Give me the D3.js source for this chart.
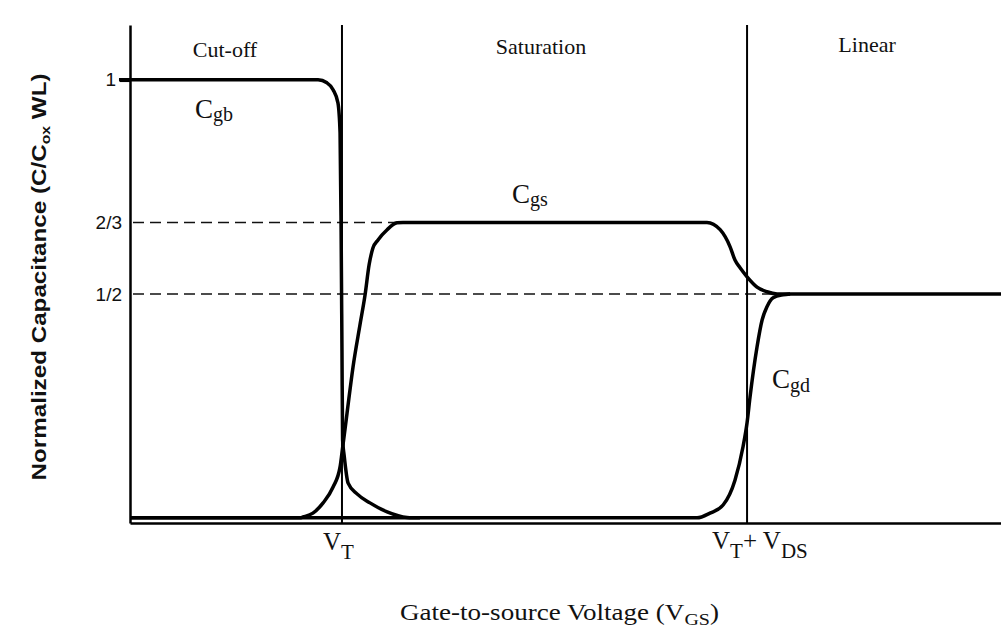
<!DOCTYPE html>
<html>
<head>
<meta charset="utf-8">
<script src="https://cdn.jsdelivr.net/npm/d3@7"></script>
<style>
  body { margin: 0; background: #fff; }
  svg { display: block; }
</style>
</head>
<body>
<div id="chart"></div>
<script>
// VGS in units of VT (VT = 1), capacitance normalised to Cox*W*L
// values
const cgbX = [-0.052, 0.887, 0.929, 0.958, 0.981, 0.991, 0.996, 1.000, 1.003, 1.010, 1.029, 1.071, 1.132, 1.213, 1.307, 1.368];
const cgbY = [1.000, 1.000, 0.993, 0.977, 0.946, 0.876, 0.643, 0.369, 0.159, 0.124, 0.058, 0.033, 0.012, -0.009, -0.022, -0.023];

const cgsX = [0, 0.802, 0.816, 0.863, 0.911, 0.958, 0.991, 1.000, 1.024, 1.052, 1.085, 1.109, 1.128, 1.146, 1.170, 1.213, 1.260, 1.288,
  2.722, 2.784, 2.831, 2.854, 2.878, 2.911, 2.958, 3.005, 3.053, 3.100, 4.109];
const cgsY = [-0.023, -0.023, -0.021, -0.012, 0.012, 0.049, 0.096, 0.129, 0.222, 0.329, 0.428, 0.498, 0.568, 0.607, 0.626, 0.650, 0.666, 0.667,
  0.667, 0.650, 0.610, 0.579, 0.561, 0.540, 0.516, 0.505, 0.500, 0.500, 0.500];

const cgdX = [0, 2.675, 2.736, 2.798, 2.854, 2.892, 2.911, 2.925, 2.958, 2.982, 3.005, 3.034, 3.081, 3.114];
const cgdY = [-0.023, -0.023, -0.012, 0.007, 0.065, 0.143, 0.199, 0.259, 0.376, 0.439, 0.470, 0.491, 0.498, 0.500];

const regionNames = ["Cut-off", "Saturation", "Linear"];
const regionCenters = [0.448, 1.939, 3.477];
const regionBounds = [1, 2.911];          // VT, VT + VDS

const yTickValues = [1, 2 / 3, 1 / 2];
const yTickLabels = ["1", "2/3", "1/2"];
const dashLevels = [2 / 3, 1 / 2];
const dashEnds = [1.288, 3.100];

const width = 1001, height = 635;
const serif = "'Liberation Serif', 'Times New Roman', serif";
const sans = "'Liberation Sans', Arial, sans-serif";

const x = d3.scaleLinear().domain([0, 4.109]).range([130, 1001]);
const y = d3.scaleLinear().domain([-0.035, 1.128]).range([523, 25]);

const svg = d3.select("#chart").append("svg")
  .attr("width", width)
  .attr("height", height);

// dashed reference levels
svg.append("g")
  .selectAll("line")
  .data(dashLevels)
  .join("line")
  .attr("x1", x(0) + 3)
  .attr("x2", (d, i) => x(dashEnds[i]))
  .attr("y1", d => y(d))
  .attr("y2", d => y(d))
  .attr("stroke", "#111")
  .attr("stroke-width", 1.5)
  .attr("stroke-dasharray", "11,6");

// region boundaries
svg.append("g")
  .selectAll("line")
  .data(regionBounds)
  .join("line")
  .attr("x1", d => x(d))
  .attr("x2", d => x(d))
  .attr("y1", y(1.128))
  .attr("y2", y(-0.035))
  .attr("stroke", "#000")
  .attr("stroke-width", 2);

// axes
let yAxis = g => g
  .attr("transform", `translate(${x(0)},0)`)
  .call(d3.axisLeft(y)
    .tickValues(yTickValues)
    .tickFormat((d, i) => yTickLabels[i])
    .tickSize(0)
    .tickPadding(8)
    .tickSizeOuter(0))
  .call(g => g.select(".domain").attr("stroke", "#000").attr("stroke-width", 2.5))
  .call(g => g.selectAll("text")
    .attr("font-family", sans)
    .attr("font-size", 19)
    .attr("fill", "#111"));

let xAxis = g => g
  .attr("transform", `translate(0,${y(-0.035)})`)
  .call(d3.axisBottom(x)
    .tickValues([])
    .tickSizeOuter(0))
  .call(g => g.select(".domain").attr("stroke", "#000").attr("stroke-width", 2.5));

svg.append("g").call(xAxis);
const yg = svg.append("g").call(yAxis);

// the "1" tick carries a short mark left of the axis
yg.selectAll(".tick")
  .filter(d => d === 1)
  .call(t => t.select("line").attr("x2", -10).attr("stroke", "#000").attr("stroke-width", 3.5))
  .call(t => t.select("text").attr("x", -14));

// curves
const line = d3.line()
  .x(d => x(d[0]))
  .y(d => y(d[1]))
  .curve(d3.curveMonotoneX);

const curves = [
  d3.zip(cgsX, cgsY),
  d3.zip(cgdX, cgdY),
  d3.zip(cgbX, cgbY),
];

svg.append("g")
  .selectAll("path")
  .data(curves)
  .join("path")
  .attr("d", line)
  .attr("fill", "none")
  .attr("stroke", "#000")
  .attr("stroke-width", 3.5)
  .attr("stroke-linejoin", "round");

// region names
svg.append("g")
  .selectAll("text")
  .data(regionNames)
  .join("text")
  .attr("x", (d, i) => x(regionCenters[i]))
  .attr("y", (d, i) => [57, 54, 52][i])
  .attr("text-anchor", "middle")
  .attr("font-family", serif)
  .attr("font-size", 22)
  .attr("fill", "#111")
  .text(d => d);

// subscripted labels
function subLabel(px, py, main, sub, mainSize, subSize, dy, extra) {
  const t = svg.append("text")
    .attr("x", px)
    .attr("y", py)
    .attr("font-family", serif)
    .attr("fill", "#111");
  t.append("tspan").attr("font-size", mainSize).text(main);
  t.append("tspan").attr("font-size", subSize).attr("dy", dy).text(sub);
  if (extra) {
    t.append("tspan").attr("font-size", mainSize).attr("dy", -dy).text(extra[0]);
    t.append("tspan").attr("font-size", subSize).attr("dy", dy).text(extra[1]);
  }
  return t;
}

subLabel(195, 118, "C", "gb", 27, 20, 3);
subLabel(512, 203, "C", "gs", 27, 20, 3);
subLabel(772, 388, "C", "gd", 27, 20, 4);

subLabel(x(regionBounds[0]) - 19, 550, "V", "T", 25, 21, 9);
subLabel(x(regionBounds[1]) - 35, 549, "V", "T", 25, 21, 9, ["+ V", "DS"]);

// x title
const xTitle = svg.append("text")
  .attr("x", 400)
  .attr("y", 620)
  .attr("font-family", serif)
  .attr("font-size", 23)
  .attr("fill", "#111")
  .attr("textLength", 319)
  .attr("lengthAdjust", "spacingAndGlyphs");
xTitle.append("tspan").text("Gate-to-source Voltage (V");
xTitle.append("tspan").attr("font-size", 17).attr("dy", 5).text("GS");
xTitle.append("tspan").attr("dy", -5).text(")");

// y title
const yTitle = svg.append("text")
  .attr("transform", "translate(46,277) rotate(-90)")
  .attr("text-anchor", "middle")
  .attr("font-family", sans)
  .attr("font-weight", "bold")
  .attr("font-size", 20)
  .attr("fill", "#111")
  .attr("textLength", 407)
  .attr("lengthAdjust", "spacingAndGlyphs");
yTitle.append("tspan").text("Normalized Capacitance (C/C");
yTitle.append("tspan").attr("font-size", 13).attr("dy", 4).text("ox");
yTitle.append("tspan").attr("dy", -4).text(" WL)");
</script>
</body>
</html>
